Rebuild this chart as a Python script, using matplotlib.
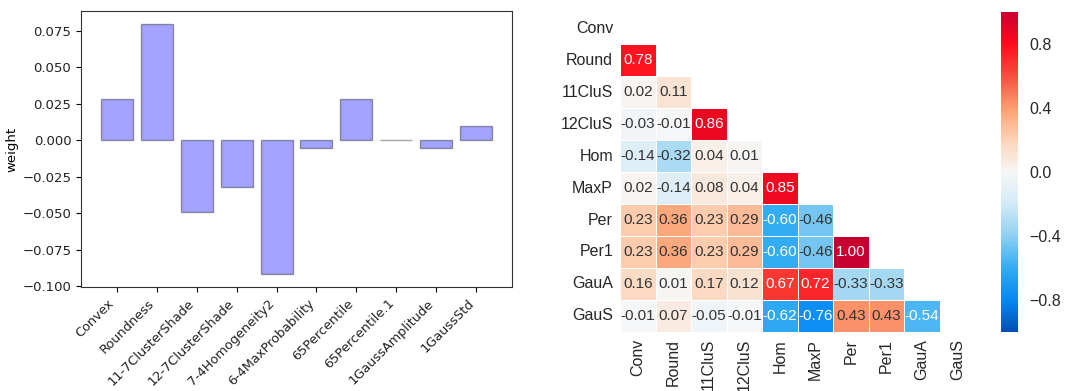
import numpy as np
import matplotlib
matplotlib.use("Agg")
import matplotlib.pyplot as plt
from matplotlib.colors import LinearSegmentedColormap
import seaborn as sns

# ---- data: bar chart ----
features = ["Convex", "Roundness", "11-7ClusterShade", "12-7ClusterShade",
            "7-4Homogeneity2", "6-4MaxProbability", "65Percentile",
            "65Percentile.1", "1GaussAmplitude", "1GaussStd"]
weights = [0.028, 0.080, -0.049, -0.032, -0.092, -0.005, 0.028, 0.0, -0.005, 0.010]

# ---- data: correlation heatmap (lower triangle rows) ----
corr_labels = ["Conv", "Round", "11CluS", "12CluS", "Hom", "MaxP", "Per", "Per1", "GauA", "GauS"]
corr_lower = [
    [],
    [0.78],
    [0.02, 0.11],
    [-0.03, -0.01, 0.86],
    [-0.14, -0.32, 0.04, 0.01],
    [0.02, -0.14, 0.08, 0.04, 0.85],
    [0.23, 0.36, 0.23, 0.29, -0.60, -0.46],
    [0.23, 0.36, 0.23, 0.29, -0.60, -0.46, 1.00],
    [0.16, 0.01, 0.17, 0.12, 0.67, 0.72, -0.33, -0.33],
    [-0.01, 0.07, -0.05, -0.01, -0.62, -0.76, 0.43, 0.43, -0.54],
]
cbar_ticks = [-0.8, -0.4, 0.0, 0.4, 0.8]

n = len(corr_labels)
corr = np.eye(n)
for i, row in enumerate(corr_lower):
    for j, v in enumerate(row):
        corr[i, j] = v
        corr[j, i] = v
mask = np.triu(np.ones_like(corr, dtype=bool))

cmap = LinearSegmentedColormap.from_list("custom_div", [
    (0.00, "#0050b4"),
    (0.10, "#0588f5"),
    (0.20, "#32acf2"),
    (0.30, "#8fd0f2"),
    (0.40, "#d2eaf6"),
    (0.50, "#f7f7f7"),
    (0.60, "#fcd4b8"),
    (0.70, "#fc9f70"),
    (0.80, "#f65040"),
    (0.90, "#ff0c1c"),
    (1.00, "#c8002f"),
], N=256)

W, H = 1084, 391
fig = plt.figure(figsize=(W / 100, H / 100), dpi=100)

def px_axes(x0, y0, x1, y1):
    return fig.add_axes([x0 / W, (H - y1) / H, (x1 - x0) / W, (y1 - y0) / H])

# ---- left: bar chart ----
ax1 = px_axes(81, 11, 512, 287)
x = np.arange(len(features))
ax1.bar(x, weights, width=0.8, color="blue", edgecolor="black", alpha=0.36, linewidth=1.0)
ax1.set_xticks(x)
ax1.set_xticklabels(features, rotation=45, ha="right", fontsize=9.3, color="#222222")
ax1.tick_params(axis="y", labelsize=9.5, labelcolor="#222222")
ax1.set_ylabel("weight", fontsize=9.5, labelpad=3)
for sp in ax1.spines.values():
    sp.set_color("#333333")

# ---- right: heatmap ----
ax2 = px_axes(620, 12, 975, 332)
cax = px_axes(1001, 12, 1018, 332)
sns.heatmap(corr, mask=mask, cmap=cmap, vmin=-1, vmax=1, annot=True, fmt=".2f",
            annot_kws={"fontsize": 11, "family": "Liberation Sans"},
            linewidths=0.6, linecolor="white", ax=ax2, cbar_ax=cax,
            xticklabels=corr_labels, yticklabels=corr_labels)
for t in ax2.texts:
    v = float(t.get_text())
    t.set_color("white" if abs(v) >= 0.5 else "#333333")
ax2.set_xticklabels(corr_labels, rotation=90, fontsize=11.5, family="Liberation Sans", color="#262626")
ax2.set_yticklabels(corr_labels, rotation=0, fontsize=11.5, family="Liberation Sans", color="#262626")
ax2.tick_params(length=0, pad=5)

cax.set_yticks(cbar_ticks)
cax.set_yticklabels([f"{t:.1f}".replace("-", "\u2212") for t in cbar_ticks],
                    fontsize=11.5, family="Liberation Sans", color="#262626")
cax.tick_params(length=0, pad=8)
for sp in cax.spines.values():
    sp.set_visible(False)

fig.savefig("out.png", dpi=100)
